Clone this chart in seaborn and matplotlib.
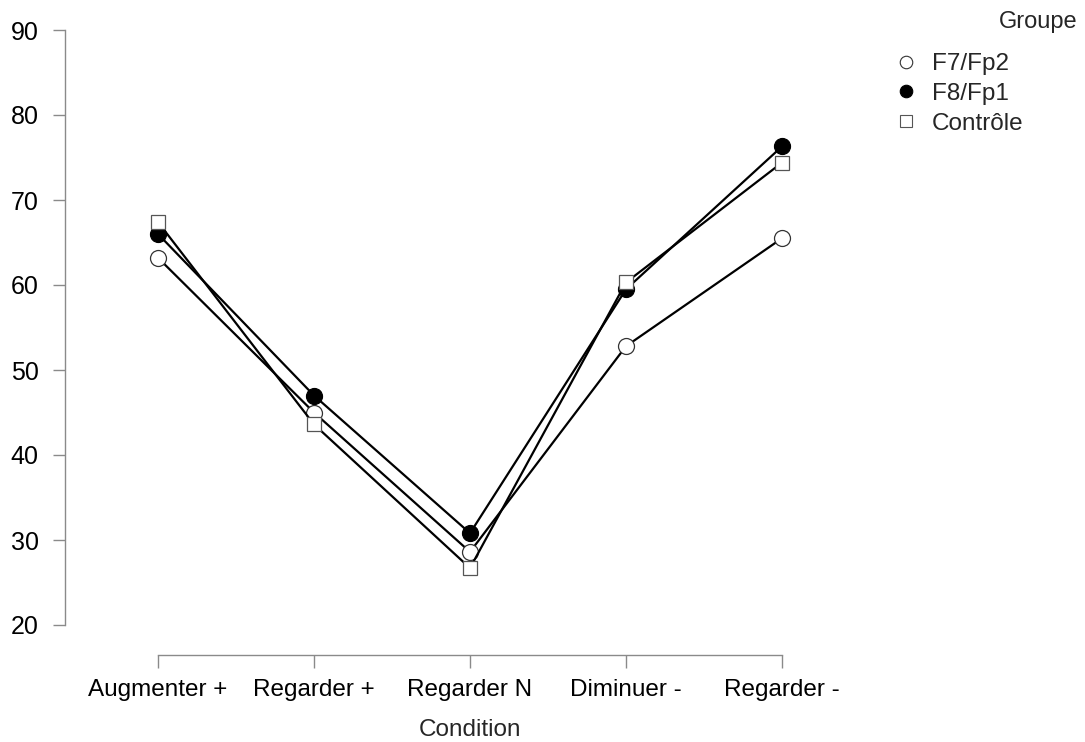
import matplotlib
matplotlib.use("Agg")
import matplotlib.pyplot as plt
import seaborn as sns
import pandas as pd

conditions = ["Augmenter +", "Regarder +", "Regarder N", "Diminuer -", "Regarder -"]
f7_fp2 = [63.2, 45.0, 28.6, 52.8, 65.5]
f8_fp1 = [66.0, 47.0, 30.8, 59.5, 76.3]
controle = [67.4, 43.6, 26.7, 60.3, 74.4]
groups = ["F7/Fp2", "F8/Fp1", "Contrôle"]
y_ticks = [20, 30, 40, 50, 60, 70, 80, 90]

sns.set_theme(style="white")
plt.rcParams["font.family"] = ["Liberation Sans", "DejaVu Sans"]

df = pd.DataFrame({
    "pos": list(range(len(conditions))) * 3,
    "score": f7_fp2 + f8_fp1 + controle,
    "Groupe": [g for g in groups for _ in conditions],
})

fig = plt.figure(figsize=(10.85, 7.42), dpi=100)
W, H = 1085, 742
ax = fig.add_axes([65 / W, 1 - 655 / H, (800 - 65) / W, (655 - 20) / H])

styles = {
    "F7/Fp2": dict(marker="o", markerfacecolor="white", markersize=11.5, markeredgecolor="#333333"),
    "F8/Fp1": dict(marker="o", markerfacecolor="black", markersize=11.5, markeredgecolor="black"),
    "Contrôle": dict(marker="s", markerfacecolor="white", markersize=10, markeredgecolor="#555555"),
}
for g in groups:
    sns.lineplot(data=df[df["Groupe"] == g], x="pos", y="score", ax=ax,
                 color="black", linewidth=1.6, markeredgewidth=0.9,
                 label=g, clip_on=False, zorder=3, **styles[g])

px_per_unit = 156.0
xmin, xmax = 0 - 93 / px_per_unit, 4 + 18 / px_per_unit
ax.set_xlim(xmin, xmax)
ax.set_ylim(20 - 30 / 8.5, 90 + 10 / 8.5)

for side in ["top", "right"]:
    ax.spines[side].set_visible(False)
for side in ["left", "bottom"]:
    ax.spines[side].set_color("#8a8a8a")
    ax.spines[side].set_linewidth(1.0)
ax.spines["left"].set_bounds(20, 90)
ax.spines["bottom"].set_bounds(0, 4)

ax.set_xticks(range(len(conditions)))
ax.set_xticklabels(conditions, fontsize=17.5)
ax.set_yticks(y_ticks)
ax.set_yticklabels([str(v) for v in y_ticks], fontsize=18)
ax.tick_params(axis="both", which="major", direction="out", length=9,
               width=1.0, color="#8a8a8a", left=True, bottom=True, labelcolor="black")
ax.tick_params(axis="x", pad=8)
ax.tick_params(axis="y", pad=10)

ax.set_xlabel("Condition", fontsize=17.5, labelpad=13)
ax.xaxis.label.set_x((2 - xmin) / (xmax - xmin))
ax.set_ylabel("")
ax.grid(False)

# Legend entries, with the group title set on its own at the right edge
leg = ax.legend(loc="center left", bbox_to_anchor=(906 / W, 1 - 94 / H),
                bbox_transform=fig.transFigure, frameon=False,
                fontsize=17.5, handlelength=0.0, handletextpad=1.05,
                labelspacing=0.32, borderpad=0.0, borderaxespad=0.0)
for h in leg.legend_handles:
    h.set_linestyle("none")
    h.set_markersize(9)
    h.set_markeredgewidth(0.8)
fig.text(1077 / W, 1 - 22 / H, "Groupe", ha="right", va="center", fontsize=17)

fig.savefig("out.png", dpi=100, facecolor="white")
